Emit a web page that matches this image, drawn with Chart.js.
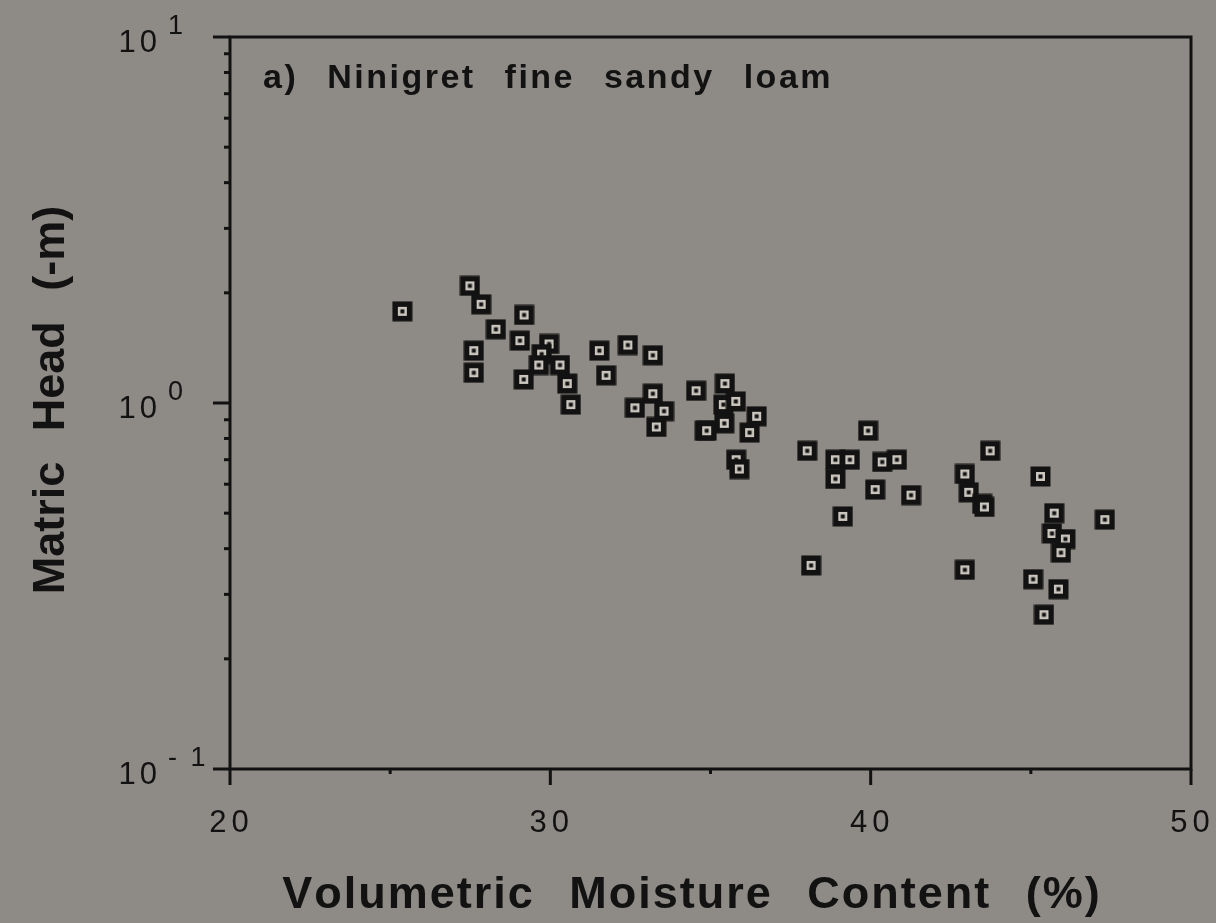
<!DOCTYPE html>
<html>
<head>
<meta charset="utf-8">
<script src="https://cdn.jsdelivr.net/npm/chart.js@4/dist/chart.umd.min.js"></script>
<style>
  html, body { margin: 0; padding: 0; background: #8e8a85; }
  canvas { display: block; }
</style>
</head>
<body>
<canvas id="retention" width="1216" height="923"></canvas>
<script>
// Volumetric moisture content (%) and matric head (-m) for each sample
const moisture = [
  25.38, 27.49, 27.84, 28.30, 29.18, 27.61, 27.61, 29.05, 29.96, 29.73,
  29.64, 30.30, 29.17, 30.53, 30.64, 31.53, 32.42, 33.20, 31.74, 33.20,
  32.64, 33.55, 33.31, 34.55, 35.45, 35.40, 35.79, 35.43, 34.82, 34.88,
  36.44, 36.22, 35.80, 35.90, 39.92, 38.02, 38.90, 39.35, 40.36, 40.82,
  38.90, 40.14, 41.26, 39.13, 38.14, 43.73, 42.94, 43.06, 43.48, 43.55,
  42.94, 45.30, 45.73, 45.66, 46.08, 45.94, 47.31, 45.07, 45.86, 45.41
];
const head = [
  1.78, 2.09, 1.86, 1.59, 1.74, 1.39, 1.21, 1.48, 1.45, 1.36,
  1.27, 1.27, 1.16, 1.13, 0.99, 1.39, 1.44, 1.35, 1.19, 1.06,
  0.97, 0.95, 0.86, 1.08, 1.13, 0.99, 1.01, 0.88, 0.84, 0.84,
  0.92, 0.83, 0.70, 0.66, 0.84, 0.74, 0.70, 0.70, 0.69, 0.70,
  0.62, 0.58, 0.56, 0.49, 0.36, 0.74, 0.64, 0.57, 0.53, 0.52,
  0.35, 0.63, 0.50, 0.44, 0.425, 0.39, 0.48, 0.33, 0.31, 0.264
];

const xMajor = [20, 30, 40, 50];
const xMinor = [25, 35, 45];
const yDecades = [0.1, 1, 10];
const yExponents = ['- 1', '0', '1'];

const INK = '#121212';
const FONT = '"Liberation Sans", Arial, sans-serif';

// open square marker with a dot in the middle
function makeMarker() {
  const c = document.createElement('canvas');
  c.width = 21; c.height = 21;
  const g = c.getContext('2d');
  g.fillStyle = INK;
  g.fillRect(0.5, 0.5, 20, 20);
  g.fillStyle = '#cbc7bf';
  g.fillRect(6, 6, 9, 9);
  g.fillStyle = INK;
  g.fillRect(8.5, 8.5, 4, 4);
  return c;
}

// text with extra tracking between letters and extra room between words
function spacedWidth(ctx, text, spacing, gap) {
  let total = 0;
  const chars = text.split('');
  chars.forEach((ch, i) => {
    total += ctx.measureText(ch).width;
    if (i < chars.length - 1) total += spacing + (ch === ' ' ? gap : 0);
  });
  return total;
}

function drawSpaced(ctx, text, x, y, spacing, align, gap = 0) {
  const total = spacedWidth(ctx, text, spacing, gap);
  let cx = align === 'center' ? x - total / 2 : align === 'right' ? x - total : x;
  ctx.textAlign = 'left';
  text.split('').forEach(ch => {
    ctx.fillText(ch, cx, y);
    cx += ctx.measureText(ch).width + spacing + (ch === ' ' ? gap : 0);
  });
}

const backdrop = {
  id: 'backdrop',
  beforeDraw(chart) {
    const { ctx, width, height } = chart;
    ctx.save();
    ctx.fillStyle = '#8e8a85';
    ctx.fillRect(0, 0, width, height);
    ctx.restore();
  }
};

const axesFrame = {
  id: 'axesFrame',
  afterDraw(chart) {
    const { ctx, chartArea: a, scales } = chart;
    const xs = scales.x, ys = scales.y;
    ctx.save();
    ctx.strokeStyle = INK;
    ctx.fillStyle = INK;
    ctx.lineWidth = 3;
    ctx.lineCap = 'butt';

    // frame
    ctx.beginPath();
    ctx.rect(a.left, a.top, a.right - a.left, a.bottom - a.top);
    ctx.stroke();

    // x ticks point down
    xMajor.forEach(v => {
      const px = xs.getPixelForValue(v);
      ctx.beginPath(); ctx.moveTo(px, a.bottom); ctx.lineTo(px, a.bottom + 16); ctx.stroke();
    });
    xMinor.forEach(v => {
      const px = xs.getPixelForValue(v);
      ctx.beginPath(); ctx.moveTo(px, a.bottom); ctx.lineTo(px, a.bottom + 5); ctx.stroke();
    });

    // y ticks point left, log minor ticks between decades
    yDecades.forEach((d, i) => {
      const py = ys.getPixelForValue(d);
      ctx.beginPath(); ctx.moveTo(a.left, py); ctx.lineTo(a.left - 17, py); ctx.stroke();
      if (i < yDecades.length - 1) {
        for (let m = 2; m <= 9; m++) {
          const my = ys.getPixelForValue(d * m);
          ctx.beginPath(); ctx.moveTo(a.left, my); ctx.lineTo(a.left - 6, my); ctx.stroke();
        }
      }
    });

    // x tick labels
    ctx.font = '31px ' + FONT;
    ctx.textBaseline = 'alphabetic';
    xMajor.forEach(v => {
      drawSpaced(ctx, String(v), xs.getPixelForValue(v) - 1, 832, 5, 'center');
    });

    // y tick labels as powers of ten
    yDecades.forEach((d, i) => {
      const py = ys.getPixelForValue(d);
      ctx.font = '31px ' + FONT;
      drawSpaced(ctx, '10', 157, py + 15, 4, 'right');
      ctx.font = '27px ' + FONT;
      drawSpaced(ctx, yExponents[i], 168, py - 3, 3, 'left');
    });

    // panel label
    ctx.font = 'bold 34px ' + FONT;
    drawSpaced(ctx, 'a) Ninigret fine sandy loam', 263, 88, 2.5, 'left', 17);

    // axis titles
    ctx.font = 'bold 45px ' + FONT;
    drawSpaced(ctx, 'Volumetric Moisture Content (%)', 691, 908, 2, 'center', 20);
    ctx.translate(64, 400);
    ctx.rotate(-Math.PI / 2);
    drawSpaced(ctx, 'Matric Head (-m)', 0, 0, 0, 'center', 18);
    ctx.restore();
  }
};

const points = moisture.map((m, i) => ({ x: m, y: head[i] }));

new Chart(document.getElementById('retention'), {
  type: 'scatter',
  data: {
    datasets: [{
      label: 'Ninigret fine sandy loam',
      data: points,
      pointStyle: makeMarker(),
      pointRadius: 10,
      pointHoverRadius: 10
    }]
  },
  options: {
    responsive: false,
    animation: false,
    layout: { padding: { left: 230, right: 25, top: 37, bottom: 154 } },
    plugins: { legend: { display: false }, tooltip: { enabled: false } },
    scales: {
      x: { type: 'linear', min: 20, max: 50, display: false },
      y: { type: 'logarithmic', min: 0.1, max: 10, display: false }
    }
  },
  plugins: [backdrop, axesFrame]
});
</script>
</body>
</html>
